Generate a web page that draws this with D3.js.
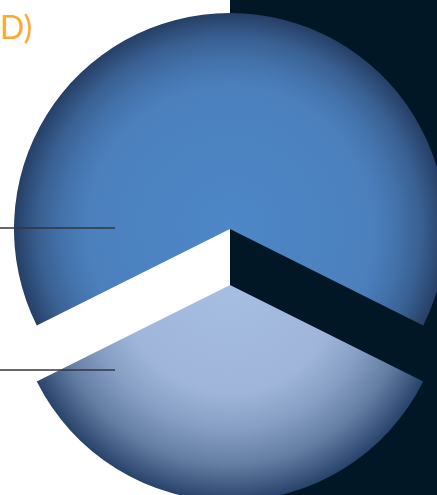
<!DOCTYPE html>
<html><head><meta charset="utf-8">
<script src="https://cdn.jsdelivr.net/npm/d3@7/dist/d3.min.js"></script>
<style>html,body{margin:0;padding:0;background:#fff;overflow:hidden}svg{display:block}</style>
</head><body><div id="c"></div>
<script>
const categories = ["Upper", "Lower"];
const values = [64.75, 35.25];
const titleText = "D)";
const centerColors = ["#4d87c7", "#a6bee2"];
const midColors = ["#4b80bd", "#9fb6da"];
const edgeColors = ["#263f66", "#28436b"];
const midStops = [0.66, 0.5];

const W = 437, H = 495, R = 216, cx = 230, cys = [229, 285], leaderY = [228, 370];
const svg = d3.select("#c").append("svg").attr("width", W).attr("height", H);
svg.append("rect").attr("x", cx).attr("y", 0).attr("width", W - cx).attr("height", H).attr("fill", "#021725");

const defs = svg.append("defs");
const total = d3.sum(values);
const start = -Math.PI * values[0] / total;
const pie = d3.pie().sort(null).startAngle(start).endAngle(start + 2 * Math.PI);
const arc = d3.arc().innerRadius(0).outerRadius(R);

categories.forEach((c, i) => {
  const g = defs.append("radialGradient").attr("id", "g" + i)
    .attr("gradientUnits", "userSpaceOnUse").attr("cx", 0).attr("cy", 0).attr("r", R);
  const mix = d3.interpolateRgb(midColors[i], edgeColors[i]);
  const m = midStops[i];
  [[0, centerColors[i]], [m, midColors[i]], [m + (1 - m) * 0.33, mix(0.2)], [m + (1 - m) * 0.66, mix(0.5)], [1, edgeColors[i]]]
    .forEach(([o, col]) => g.append("stop").attr("offset", o).attr("stop-color", col));
});

svg.selectAll("path.slice").data(pie(values)).join("path").attr("class", "slice")
  .attr("transform", (d, i) => `translate(${cx},${cys[i]})`)
  .attr("d", arc).attr("fill", (d, i) => `url(#g${i})`);

svg.selectAll("line.leader").data(leaderY).join("line").attr("class", "leader")
  .attr("x1", 0).attr("x2", 115).attr("y1", d => d).attr("y2", d => d)
  .attr("stroke", "#35353d").attr("stroke-width", 1.4);

svg.append("text").attr("x", 0).attr("y", 39).text(titleText)
  .attr("font-family", "Lato").attr("font-size", 32).attr("fill", "#fbaa2e");
</script></body></html>
